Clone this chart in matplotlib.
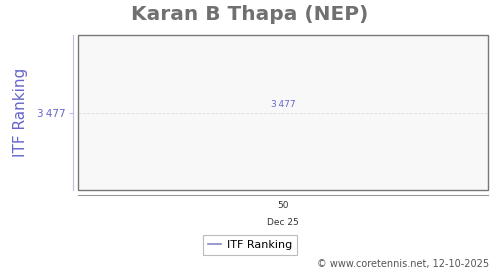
import matplotlib
matplotlib.use('Agg')
import matplotlib.pyplot as plt
from matplotlib.patches import Rectangle

weeks = ['50']
months = ['Dec 25']
itf_ranking = [3477]

title = 'Karan B Thapa (NEP)'
series_name = 'ITF Ranking'
credit = '\u00a9 www.coretennis.net, 12-10-2025'

purple = '#6666cc'
line_col = '#8888cc'


def fmt(v):
    return format(v, ',').replace(',', '\u2009')


fig = plt.figure(figsize=(5, 2.7), dpi=100)
ax = fig.add_axes([0.156, 0.296, 0.82, 0.574])
ax.set_facecolor('#f8f8f8')

x = list(range(len(weeks)))
line, = ax.plot(x, itf_ranking, color=line_col, lw=1.2, label=series_name)
for xi, v in zip(x, itf_ranking):
    ax.annotate(fmt(v), (xi, v), xytext=(0, 2.5), textcoords='offset points',
                ha='center', va='bottom', fontsize=6.5, color=purple)

ax.set_xlim(-0.5, len(weeks) - 0.5)
ax.set_ylim(itf_ranking[0] - 1, itf_ranking[0] + 1)

# frame around the plot area
ax.add_patch(Rectangle((0, 0), 1, 1, transform=ax.transAxes, fill=False,
                       ec='#777777', lw=1, clip_on=False, zorder=5))

ax.spines['top'].set_visible(False)
ax.spines['right'].set_visible(False)
ax.spines['left'].set_position(('outward', 3.6))
ax.spines['left'].set_color('#bbbbee')
ax.spines['bottom'].set_position(('outward', 3.6))
ax.spines['bottom'].set_color('#999999')

ax.set_yticks(itf_ranking)
ax.set_yticklabels([fmt(v) for v in itf_ranking])
ax.tick_params(axis='y', colors='#bbbbee', labelcolor=purple, labelsize=7.5,
               length=3, pad=2)
ax.set_xticks(x)
ax.set_xticklabels([w + '\n' + m for w, m in zip(weeks, months)],
                   linespacing=2.2)
ax.tick_params(axis='x', length=0, labelsize=6.5, labelcolor='#333333', pad=4)
ax.grid(axis='y', color='#dddddd', ls='--', lw=0.6)

ax.set_ylabel(series_name, color=purple, fontsize=11, labelpad=7)
fig.text(0.5, 0.945, title, ha='center', va='center', fontsize=14.5,
         fontweight='bold', color='#707070')

leg = fig.legend(handles=[line], loc='center', bbox_to_anchor=(0.5, 0.093),
                 fontsize=8, frameon=True, fancybox=False, handlelength=1.2,
                 handletextpad=0.5, borderpad=0.45)
leg.get_frame().set_edgecolor('#aaaaaa')
leg.get_frame().set_linewidth(0.8)

fig.text(0.978, 0.022, credit, ha='right', va='center', fontsize=7,
         color='#555555')

fig.savefig('out.png', dpi=100)
